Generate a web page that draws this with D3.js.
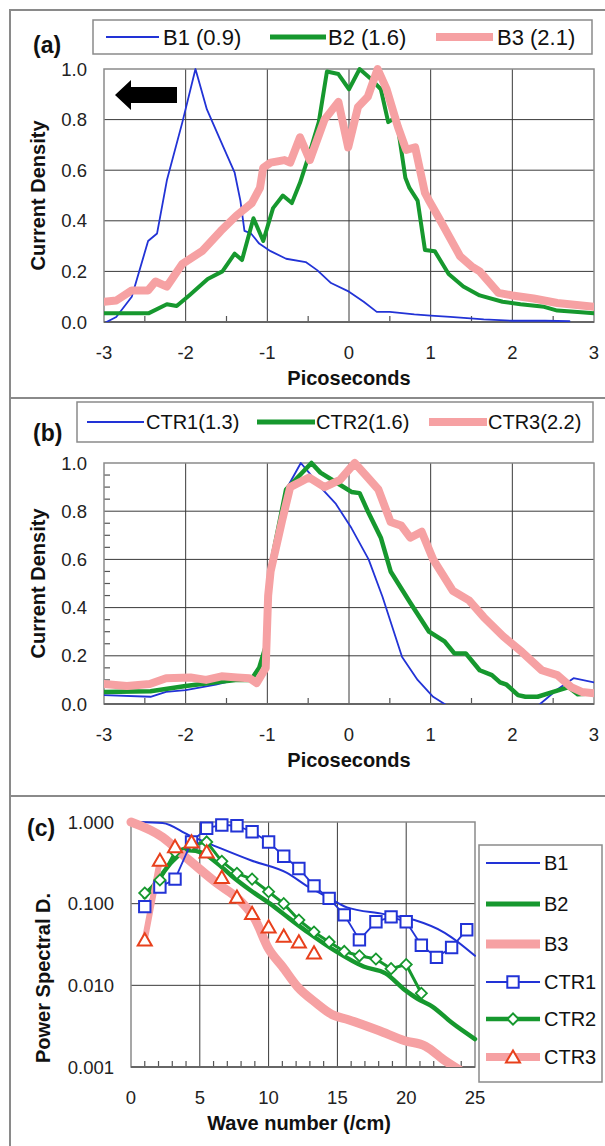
<!DOCTYPE html>
<html><head><meta charset="utf-8">
<script src="https://cdn.jsdelivr.net/npm/d3@7"></script>
<style>html,body{margin:0;padding:0;background:#fff;} svg{display:block;font-family:"Liberation Sans",Arial,sans-serif;}</style>
</head><body><svg id="c" width="605" height="1146"></svg>
<script>
// ---------- DATA ----------
// Panel (a): bunch current profiles, x = picoseconds
const b1T = [-2.97,-2.85,-2.66,-2.46,-2.35,-2.23,-2.04,-1.88,-1.74,-1.55,-1.40,-1.33,-1.28,-1.20,-1.10,-0.96,-0.77,-0.53,-0.39,-0.22,0.0,0.18,0.34,0.5,0.8,1.0,1.24,1.65,2.0,2.4,2.7];
const b1V = [0.0,0.02,0.10,0.32,0.35,0.56,0.79,1.0,0.84,0.70,0.59,0.48,0.36,0.35,0.31,0.28,0.25,0.237,0.205,0.154,0.12,0.08,0.04,0.04,0.03,0.025,0.02,0.01,0.005,0.005,0.003];
const b2T = [-3,-2.45,-2.23,-2.11,-1.95,-1.73,-1.55,-1.40,-1.31,-1.17,-1.05,-0.93,-0.81,-0.70,-0.6,-0.5,-0.37,-0.27,-0.13,0.0,0.13,0.27,0.39,0.48,0.58,0.69,0.74,0.84,0.93,1.05,1.22,1.40,1.6,1.88,2.1,2.39,2.55,2.8,3.0];
const b2V = [0.035,0.035,0.07,0.063,0.107,0.17,0.2,0.27,0.245,0.41,0.32,0.45,0.5,0.47,0.55,0.65,0.79,0.99,0.98,0.92,1.0,0.96,0.92,0.79,0.81,0.57,0.53,0.48,0.285,0.28,0.19,0.14,0.105,0.08,0.07,0.06,0.045,0.04,0.035];
const b3T = [-3,-2.85,-2.66,-2.46,-2.37,-2.23,-2.04,-1.80,-1.57,-1.38,-1.19,-1.09,-1.05,-0.96,-0.79,-0.72,-0.60,-0.48,-0.30,-0.13,-0.01,0.11,0.23,0.35,0.46,0.60,0.70,0.81,0.93,0.98,1.12,1.36,1.50,1.6,1.83,2.0,2.26,2.55,3.0];
const b3V = [0.08,0.085,0.125,0.125,0.16,0.14,0.23,0.28,0.36,0.42,0.47,0.53,0.61,0.63,0.64,0.63,0.73,0.64,0.80,0.87,0.69,0.85,0.89,1.0,0.92,0.77,0.68,0.69,0.51,0.48,0.40,0.26,0.22,0.2,0.115,0.105,0.093,0.075,0.06];
// Panel (b): CTR reconstructions
const c1T = [-3,-2.43,-2.24,-2.0,-1.63,-1.39,-1.2,-1.1,-1.01,-0.96,-0.77,-0.59,-0.49,-0.35,-0.16,0.03,0.24,0.41,0.65,0.84,1.03,1.17,1.3,2.2,2.34,2.55,2.75,3.0];
const c1V = [0.037,0.03,0.05,0.058,0.08,0.1,0.107,0.155,0.25,0.57,0.89,1.0,0.96,0.90,0.83,0.73,0.60,0.445,0.195,0.1,0.03,0.0,-0.03,-0.03,0.0,0.06,0.107,0.09];
const c2T = [-3,-2.43,-2.0,-1.63,-1.39,-1.2,-1.1,-1.01,-0.96,-0.77,-0.46,-0.35,-0.16,0.03,0.13,0.23,0.39,0.51,0.75,0.98,1.17,1.29,1.43,1.6,1.75,1.85,1.93,2.07,2.16,2.31,2.5,2.69,2.8,3.0];
const c2V = [0.05,0.053,0.075,0.09,0.1,0.1,0.15,0.25,0.57,0.89,1.0,0.96,0.92,0.88,0.875,0.80,0.69,0.55,0.42,0.30,0.26,0.21,0.21,0.14,0.12,0.09,0.08,0.037,0.03,0.03,0.05,0.07,0.04,0.045];
const c3T = [-3,-2.72,-2.44,-2.24,-1.94,-1.75,-1.56,-1.37,-1.22,-1.13,-1.02,-0.99,-0.96,-0.82,-0.72,-0.49,-0.30,-0.11,0.07,0.23,0.36,0.51,0.64,0.75,0.89,1.03,1.27,1.47,1.65,1.89,2.12,2.36,2.55,2.72,2.85,3.0];
const c3V = [0.083,0.075,0.083,0.107,0.11,0.1,0.115,0.11,0.107,0.087,0.15,0.45,0.55,0.76,0.9,0.94,0.90,0.93,1.0,0.94,0.89,0.755,0.74,0.69,0.715,0.6,0.47,0.43,0.36,0.28,0.215,0.14,0.12,0.07,0.05,0.045];
// Panel (c): power spectral density vs wave number
const sB1K = [0.5,2.3,4.2,6.2,8.7,11.3,12.9,14.3,15.7,18.3,20.6,22.8,25];
const sB1V = [1.0,0.97,0.69,0.5,0.34,0.24,0.16,0.12,0.09,0.075,0.063,0.044,0.023];
const sB2K = [1,2,3,4.2,5.2,6.2,7.3,8.7,10.1,11.5,12.9,14.9,16.9,18.5,19.9,20.8,21.9,23.3,25];
const sB2V = [0.12,0.2,0.33,0.45,0.42,0.32,0.22,0.145,0.10,0.066,0.044,0.026,0.017,0.014,0.0088,0.0069,0.0055,0.0035,0.0022];
const sB3K = [0,2.3,3.9,6.2,7.9,9.0,10.0,11.0,12.1,13.5,14.6,15.8,18,19.9,21.4,22.8,24.2];
const sB3V = [1.0,0.65,0.38,0.18,0.11,0.065,0.028,0.017,0.0096,0.006,0.0044,0.0038,0.0028,0.0021,0.0018,0.0012,0.00085];
const sC1K = [1.0,2.1,3.2,4.4,5.5,6.6,7.7,8.8,10.0,11.1,12.2,13.3,14.4,15.5,16.6,17.8,18.9,20.0,21.1,22.2,23.3,24.4];
const sC1V = [0.092,0.16,0.20,0.57,0.84,0.92,0.90,0.76,0.57,0.38,0.27,0.165,0.116,0.073,0.036,0.06,0.069,0.06,0.031,0.022,0.029,0.048];
const sC2K = [1.0,2.1,3.2,4.4,5.5,6.6,7.7,8.8,10.0,11.1,12.2,13.3,14.4,15.5,16.6,17.8,18.9,20.0,21.1];
const sC2V = [0.135,0.195,0.43,0.52,0.57,0.33,0.235,0.20,0.14,0.10,0.063,0.045,0.034,0.026,0.023,0.021,0.016,0.018,0.008];
const sC3K = [1.0,2.1,3.2,4.4,5.5,6.6,7.7,8.8,10.0,11.1,12.2,13.3];
const sC3V = [0.036,0.34,0.50,0.57,0.43,0.21,0.12,0.076,0.052,0.04,0.034,0.025];

const legendA = ["B1 (0.9)","B2 (1.6)","B3 (2.1)"];
const legendB = ["CTR1(1.3)","CTR2(1.6)","CTR3(2.2)"];
const legendC = ["B1","B2","B3","CTR1","CTR2","CTR3"];
const timeTicks = [-3,-2,-1,0,1,2,3];
const densTicks = [0,0.2,0.4,0.6,0.8,1.0];
const waveTicks = [0,5,10,15,20,25];
const psdTicks = [0.001,0.01,0.1,1];

// ---------- STYLE ----------
const BLUE="#2233d6", GREEN="#16982e", PINK="#f6a1a3", RED="#e8401c";
const GRID="#3a3a3a", FRAME="#8a8a8a";
const svg = d3.select("#c");

svg.append("rect").attr("x",10).attr("y",10).attr("width",640).attr("height",1200)
  .attr("fill","none").attr("stroke",FRAME).attr("stroke-width",2);
[398,796].forEach(y=>svg.append("line").attr("x1",10).attr("x2",605).attr("y1",y).attr("y2",y)
  .attr("stroke",FRAME).attr("stroke-width",2));

let clipId=0;
function linePath(g, xs, ys, xsc, ysc, color, w, curve, clip){
  const data = xs.map((d,i)=>[d,ys[i]]);
  const p = g.append("path").datum(data)
    .attr("d", d3.line().x(d=>xsc(d[0])).y(d=>ysc(d[1])).curve(curve||d3.curveLinear))
    .attr("fill","none").attr("stroke",color).attr("stroke-width",w)
    .attr("stroke-linejoin","round").attr("stroke-linecap","round");
  if(clip) p.attr("clip-path","url(#"+clip+")");
  return p;
}

function timePanel(top, bottom, label, labelY, legendBox, legendLabels, legendPos, legFont, series, yMinor){
  const x = d3.scaleLinear().domain([-3,3]).range([104,594]);
  const y = d3.scaleLinear().domain([0,1]).range([bottom, top]);
  const g = svg.append("g");
  const cid = "clip"+(clipId++);
  g.append("clipPath").attr("id",cid).append("rect")
    .attr("x",104).attr("y",top-10).attr("width",490).attr("height",bottom-top+10);
  g.append("rect").attr("x",104).attr("y",top).attr("width",490).attr("height",bottom-top).attr("fill","#fff");
  g.selectAll(".gx").data(timeTicks.slice(1,-1)).join("line")
    .attr("x1",d=>x(d)).attr("x2",d=>x(d)).attr("y1",top).attr("y2",bottom).attr("stroke",GRID).attr("stroke-width",1);
  g.selectAll(".gy").data(densTicks.slice(1,-1)).join("line")
    .attr("x1",104).attr("x2",594).attr("y1",d=>y(d)).attr("y2",d=>y(d)).attr("stroke",GRID).attr("stroke-width",1);
  g.selectAll(".mx").data(d3.range(-2.5,3,1)).join("line")
    .attr("x1",d=>x(d)).attr("x2",d=>x(d)).attr("y1",bottom).attr("y2",bottom-6).attr("stroke","#555").attr("stroke-width",1.2);
  if(yMinor){
    g.selectAll(".my").data(d3.range(0.05,1,0.05).filter(v=>Math.abs(v*5-Math.round(v*5))>0.01)).join("line")
      .attr("x1",104).attr("x2",110).attr("y1",d=>y(d)).attr("y2",d=>y(d)).attr("stroke","#555").attr("stroke-width",1.2);
  }
  g.append("rect").attr("x",104).attr("y",top).attr("width",490).attr("height",bottom-top)
    .attr("fill","none").attr("stroke",FRAME).attr("stroke-width",1.5);
  g.append("line").attr("x1",104).attr("x2",594).attr("y1",bottom).attr("y2",bottom).attr("stroke","#666").attr("stroke-width",2);
  series.forEach(s=>linePath(g, s.t, s.v, x, y, s.c, s.w, null, cid));
  g.selectAll(".yl").data(densTicks).join("text")
    .attr("x",87).attr("y",d=>y(d)).attr("dy","0.36em").attr("text-anchor","end")
    .attr("font-size",18.5).attr("fill","#222").text(d=>d3.format(".1f")(d));
  g.selectAll(".xl").data(timeTicks).join("text")
    .attr("x",d=>x(d)).attr("y",bottom+30).attr("dy","0.36em").attr("text-anchor","middle")
    .attr("font-size",18.5).attr("fill","#222").text(d=>d);
  g.append("text").attr("x",349).attr("y",bottom+56).attr("dy","0.36em").attr("text-anchor","middle")
    .attr("font-size",20).attr("font-weight","bold").attr("fill","#111").text("Picoseconds");
  g.append("text").attr("transform",`translate(38,${(top+bottom)/2}) rotate(-90)`).attr("dy","0.36em")
    .attr("text-anchor","middle").attr("font-size",20).attr("font-weight","bold").attr("fill","#111").text("Current Density");
  g.append("text").attr("x",33).attr("y",labelY).attr("dy","0.36em").attr("font-size",23).attr("font-weight","bold").attr("fill","#111").text(label);
  const [lx,ly,lw,lh]=legendBox;
  g.append("rect").attr("x",lx).attr("y",ly).attr("width",lw).attr("height",lh).attr("fill","#fff").attr("stroke",FRAME).attr("stroke-width",1.5);
  const cy = ly+lh/2;
  legendLabels.forEach((t,i)=>{
    const [a,b,tx]=legendPos[i];
    g.append("line").attr("x1",a).attr("x2",b).attr("y1",cy).attr("y2",cy).attr("stroke",series[i].c).attr("stroke-width",series[i].lw);
    g.append("text").attr("x",tx).attr("y",cy).attr("dy","0.36em").attr("font-size",legFont).attr("fill","#111").text(t);
  });
  return {g,x,y};
}

// ----- Panel (a)
const pa = timePanel(69,322,"(a)",45,[93,20,499,34],legendA,[[106,159,163],[270,326,328],[436,493,497]],22,
  [{t:b1T,v:b1V,c:BLUE,w:1.8,lw:2.2},{t:b2T,v:b2V,c:GREEN,w:4,lw:5},{t:b3T,v:b3V,c:PINK,w:8,lw:8}], false);
// direction arrow
pa.g.append("path").attr("d","M115,95 L131,80 L131,87 L177,87 L177,103 L131,103 L131,110 Z").attr("fill","#000");

// ----- Panel (b)
timePanel(463,704,"(b)",433,[77,402,516,40],legendB,[[87,144,146],[257,315,316],[429,487,488]],20,
  [{t:c1T,v:c1V,c:BLUE,w:1.8,lw:2.2},{t:c2T,v:c2V,c:GREEN,w:4.5,lw:5},{t:c3T,v:c3V,c:PINK,w:8,lw:8}], true);

// ----- Panel (c)
(function(){
  const x = d3.scaleLinear().domain([0,25]).range([131,475]);
  const y = d3.scaleLog().domain([0.001,1]).range([1067,822]);
  const g = svg.append("g");
  g.append("clipPath").attr("id","clipc").append("rect").attr("x",120).attr("y",812).attr("width",362).attr("height",255);
  g.selectAll(".gx").data(waveTicks.slice(1,-1)).join("line")
    .attr("x1",d=>x(d)).attr("x2",d=>x(d)).attr("y1",822).attr("y2",1067).attr("stroke",GRID).attr("stroke-width",1);
  g.selectAll(".gy").data(psdTicks.slice(1,-1)).join("line")
    .attr("x1",131).attr("x2",475).attr("y1",d=>y(d)).attr("y2",d=>y(d)).attr("stroke",GRID).attr("stroke-width",1);
  g.selectAll(".mx").data(d3.range(1,25).filter(d=>d%5)).join("line")
    .attr("x1",d=>x(d)).attr("x2",d=>x(d)).attr("y1",1067).attr("y2",1061).attr("stroke","#555").attr("stroke-width",1.2);
  g.append("rect").attr("x",131).attr("y",822).attr("width",344).attr("height",245)
    .attr("fill","none").attr("stroke",FRAME).attr("stroke-width",1.5);
  g.append("line").attr("x1",131).attr("x2",475).attr("y1",1067).attr("y2",1067).attr("stroke","#666").attr("stroke-width",2);

  const sm = d3.curveMonotoneX;
  linePath(g,sB1K,sB1V,x,y,BLUE,2,sm,"clipc");
  linePath(g,sB2K,sB2V,x,y,GREEN,4.5,sm,"clipc");
  linePath(g,sB3K,sB3V,x,y,PINK,9,sm,"clipc");
  linePath(g,sC1K,sC1V,x,y,BLUE,1.8,null,"clipc");
  linePath(g,sC2K,sC2V,x,y,GREEN,3,null,"clipc");
  linePath(g,sC3K.slice(0,2),sC3V.slice(0,2),x,y,PINK,6,sm,"clipc");

  const sq = d3.symbol().type(d3.symbolSquare).size(130);
  const di = d3.symbol().type(d3.symbolSquare).size(62);
  const tr = d3.symbol().type(d3.symbolTriangle).size(85);
  g.selectAll(".c1").data(sC1K.map((k,i)=>[k,sC1V[i]])).join("path")
    .attr("d",sq).attr("transform",d=>`translate(${x(d[0])},${y(d[1])})`)
    .attr("fill","#fff").attr("stroke",BLUE).attr("stroke-width",2);
  g.selectAll(".c2").data(sC2K.map((k,i)=>[k,sC2V[i]])).join("path")
    .attr("d",di).attr("transform",d=>`translate(${x(d[0])},${y(d[1])}) rotate(45)`)
    .attr("fill","#fff").attr("stroke",GREEN).attr("stroke-width",1.8);
  g.selectAll(".c3").data(sC3K.map((k,i)=>[k,sC3V[i]])).join("path")
    .attr("d",tr).attr("transform",d=>`translate(${x(d[0])},${y(d[1])+1.5})`)
    .attr("fill","#fff").attr("stroke",RED).attr("stroke-width",2);

  g.selectAll(".yl").data(psdTicks).join("text")
    .attr("x",114).attr("y",d=>y(d)).attr("dy","0.36em").attr("text-anchor","end")
    .attr("font-size",18.5).attr("fill","#222").text(d=>d3.format(".3f")(d));
  g.selectAll(".xl").data(waveTicks).join("text")
    .attr("x",d=>x(d)).attr("y",1097).attr("dy","0.36em").attr("text-anchor","middle")
    .attr("font-size",18.5).attr("fill","#222").text(d=>d);
  g.append("text").attr("x",299).attr("y",1123).attr("dy","0.36em").attr("text-anchor","middle")
    .attr("font-size",20).attr("font-weight","bold").attr("fill","#111").text("Wave number (/cm)");
  g.append("text").attr("transform","translate(43,1063) rotate(-90)").attr("dy","0.36em")
    .attr("text-anchor","start").attr("font-size",20).attr("font-weight","bold").attr("fill","#111").text("Power Spectral D.");
  g.append("text").attr("x",27).attr("y",828).attr("dy","0.36em").attr("font-size",23).attr("font-weight","bold").attr("fill","#111").text("(c)");

  // legend
  g.append("rect").attr("x",479).attr("y",845).attr("width",123).attr("height",237).attr("fill","#fff").attr("stroke",FRAME).attr("stroke-width",1.5);
  const ly = [863,904,944,982,1019,1057];
  const lsty = [{c:BLUE,w:2.2},{c:GREEN,w:5},{c:PINK,w:9},{c:BLUE,w:1.8,m:sq,mc:BLUE},{c:GREEN,w:4.5,m:di,mc:GREEN,rot:45},{c:PINK,w:8,m:tr,mc:RED}];
  legendC.forEach((t,i)=>{
    const s=lsty[i];
    g.append("line").attr("x1",486).attr("x2",540).attr("y1",ly[i]).attr("y2",ly[i]).attr("stroke",s.c).attr("stroke-width",s.w);
    if(s.m) g.append("path").attr("d",s.m).attr("transform",`translate(513,${ly[i]+(i===5?1.5:0)})${s.rot?" rotate(45)":""}`)
      .attr("fill","#fff").attr("stroke",s.mc).attr("stroke-width",2);
    g.append("text").attr("x",544).attr("y",ly[i]).attr("dy","0.36em").attr("font-size",20).attr("fill","#111").text(t);
  });
})();
</script></body></html>
